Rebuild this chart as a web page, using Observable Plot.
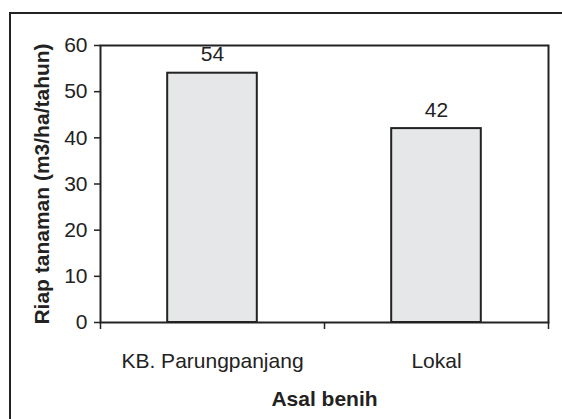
<!DOCTYPE html>
<html>
<head>
<meta charset="utf-8">
<script src="https://cdn.jsdelivr.net/npm/d3@7"></script>
<script src="https://cdn.jsdelivr.net/npm/@observablehq/plot@0.6"></script>
<style>
  body { margin: 0; background: #fff; }
  #wrap { position: relative; width: 562px; height: 419px; overflow: hidden; background: #fff; }
  #border { position: absolute; left: 9px; top: 12px; width: 620px; height: 520px; border: 2px solid #222; box-sizing: border-box; pointer-events: none; }
  #wrap svg { position: absolute; left: 0; top: 0; }
  g[aria-label="x-axis label"] text, g[aria-label="y-axis label"] text { font-weight: bold; }
</style>
</head>
<body>
<div id="wrap"><div id="border"></div></div>
<script>
// Growth increment by seed origin
const categories = ["KB. Parungpanjang", "Lokal"];
const values = [54, 42];
const yTicks = [0, 10, 20, 30, 40, 50, 60];
const yLabel = "Riap tanaman (m3/ha/tahun)";
const xLabel = "Asal benih";

const data = categories.map((c, i) => ({category: c, value: values[i], pos: i}));

// x is an index scale: category i is centred at i + 0.5, ticks sit on the boundaries
const edges = d3.range(categories.length + 1);
const centers = categories.map((c, i) => i + 0.5);
const halfBar = 0.2;

const chart = Plot.plot({
  width: 562,
  height: 419,
  marginLeft: 100,
  marginTop: 45,
  marginRight: 14,
  marginBottom: 97,
  style: {fontFamily: "'Liberation Sans', Arial, sans-serif", fontSize: "21px", color: "#222", background: "transparent"},
  x: {type: "linear", domain: [0, categories.length]},
  y: {domain: [0, 60]},
  marks: [
    Plot.rectY(data, {
      x1: d => d.pos + 0.5 - halfBar,
      x2: d => d.pos + 0.5 + halfBar,
      y: "value",
      fill: "#e6e7e8",
      stroke: "#222",
      strokeWidth: 2
    }),
    Plot.frame({stroke: "#222", strokeWidth: 2}),
    Plot.axisY(yTicks, {
      tickSize: 6, tickPadding: 7, strokeWidth: 1.5, fontSize: 21,
      label: yLabel, labelAnchor: "center", labelOffset: 66, labelArrow: "none"
    }),
    Plot.axisX(edges, {tickSize: 7, strokeWidth: 1.5, tickFormat: () => "", label: null}),
    Plot.axisX(centers, {
      tickSize: 0, tickPadding: 31, fontSize: 21,
      tickFormat: d => categories[Math.floor(d)],
      label: xLabel, labelAnchor: "center", labelOffset: 83, labelArrow: "none"
    }),
    Plot.text(data, {
      x: d => d.pos + 0.5,
      y: "value",
      text: d => String(d.value),
      dy: -12,
      lineAnchor: "bottom",
      fontSize: 21,
      fill: "#222"
    })
  ]
});
document.getElementById("wrap").prepend(chart);
</script>
</body>
</html>
